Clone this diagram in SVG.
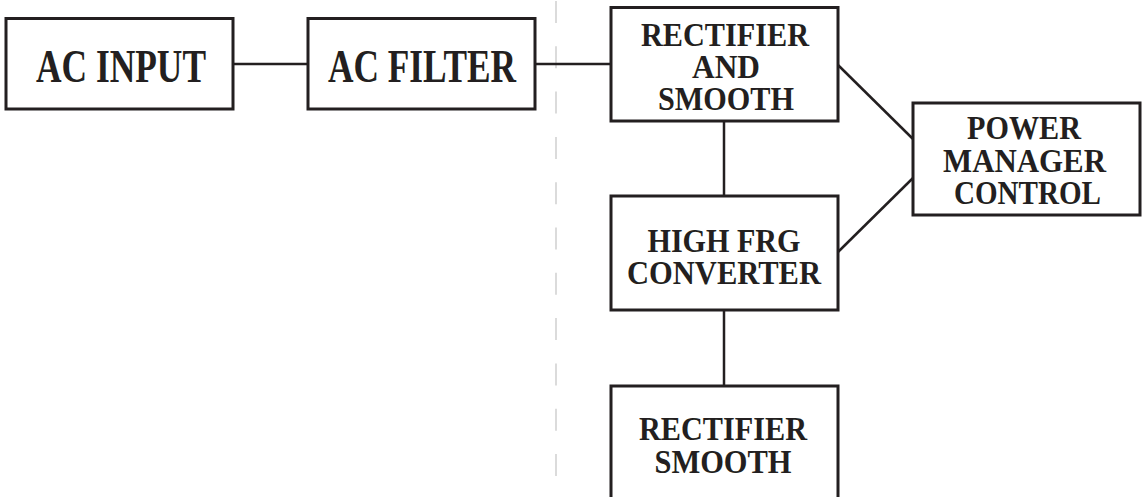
<svg xmlns="http://www.w3.org/2000/svg" width="1142" height="497" viewBox="0 0 1142 497">
<style>
.box{fill:#ffffff;stroke:#231f20;stroke-width:3}
.wire{fill:none;stroke:#231f20;stroke-width:2.5}
.sep{fill:none;stroke:#cccccc;stroke-width:1.4;stroke-dasharray:22 23.3}
text{font-family:"Liberation Serif","Times New Roman",serif;font-weight:bold;fill:#231f20;text-anchor:middle}
.big{font-size:47px}
.mid{font-size:33px}
</style>
<rect width="1142" height="497" fill="#ffffff"/>
<line class="sep" x1="556" y1="1" x2="556" y2="497"/>
<g id="connectors">
<line class="wire" x1="233" y1="64" x2="308" y2="64"/>
<line class="wire" x1="535" y1="64" x2="611" y2="64"/>
<line class="wire" x1="724" y1="121" x2="724" y2="196"/>
<line class="wire" x1="724" y1="310" x2="724" y2="386"/>
<line class="wire" x1="838" y1="65" x2="913" y2="139"/>
<line class="wire" x1="838" y1="252" x2="913" y2="178"/>
</g>
<g id="ac-input">
<rect class="box" x="6" y="18.5" width="227" height="90.5"/>
<text class="big" x="121" y="82" textLength="170" lengthAdjust="spacingAndGlyphs">AC INPUT</text>
</g>
<g id="ac-filter">
<rect class="box" x="308" y="18.5" width="227" height="90.5"/>
<text class="big" x="422" y="82" textLength="188" lengthAdjust="spacingAndGlyphs">AC FILTER</text>
</g>
<g id="rectifier-and-smooth">
<rect class="box" x="611" y="7.5" width="227" height="113.5"/>
<text class="mid" x="725" y="46" textLength="168" lengthAdjust="spacingAndGlyphs">RECTIFIER</text>
<text class="mid" x="726" y="78" textLength="68" lengthAdjust="spacingAndGlyphs">AND</text>
<text class="mid" x="726" y="110" textLength="136" lengthAdjust="spacingAndGlyphs">SMOOTH</text>
</g>
<g id="high-frg-converter">
<rect class="box" x="611" y="196" width="227" height="114"/>
<text class="mid" x="724" y="252" textLength="153" lengthAdjust="spacingAndGlyphs">HIGH FRG</text>
<text class="mid" x="724" y="284" textLength="194" lengthAdjust="spacingAndGlyphs">CONVERTER</text>
</g>
<g id="rectifier-smooth">
<rect class="box" x="611" y="386" width="227" height="116"/>
<text class="mid" x="723" y="440" textLength="168" lengthAdjust="spacingAndGlyphs">RECTIFIER</text>
<text class="mid" x="723" y="473" textLength="137" lengthAdjust="spacingAndGlyphs">SMOOTH</text>
</g>
<g id="power-manager-control">
<rect class="box" x="913" y="103" width="227" height="112"/>
<text class="mid" x="1024" y="139" textLength="114" lengthAdjust="spacingAndGlyphs">POWER</text>
<text class="mid" x="1024.5" y="172" textLength="163" lengthAdjust="spacingAndGlyphs">MANAGER</text>
<text class="mid" x="1027.5" y="204" textLength="147" lengthAdjust="spacingAndGlyphs">CONTROL</text>
</g>
</svg>
